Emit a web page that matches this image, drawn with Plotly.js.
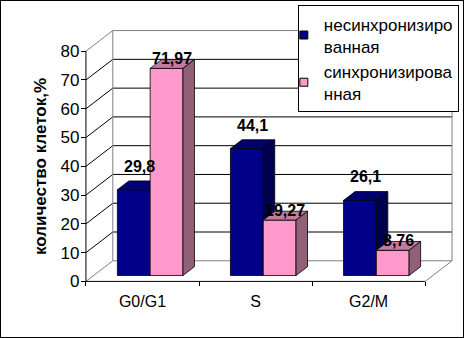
<!DOCTYPE html>
<html><head><meta charset="utf-8">
<script src="https://cdn.plot.ly/plotly-3.0.1.min.js"></script>
<style>
html,body{margin:0;padding:0;background:#fff}
#wrap{position:relative;width:464px;height:338px}
#chart{width:464px;height:338px}
#frame{position:absolute;left:0;top:0;width:464px;height:338px;box-sizing:border-box;border:1px solid #000;pointer-events:none;z-index:10}
</style>
</head><body><div id="wrap"><div id="chart"></div><div id="frame"></div></div>
<script>
// ---- data ----
const categories = ["G0/G1", "S", "G2/M"];
const seriesNames = ["несинхронизиро<br>ванная", "синхронизирова<br>нная"];
const unsync = [29.8, 44.1, 26.1];
const sync = [71.97, 19.27, 8.76];
const yTicks = [0, 10, 20, 30, 40, 50, 60, 70, 80];
const yTitle = "количество клеток,%";

// ---- geometry (pixels -> data units) ----
const W = 464, H = 338, M = {l: 75, r: 5, t: 24, b: 34};
const KX = 113.67, KY = 2.93;
const frontX0px = 86, frontY0px = 281;
const plotW = W - M.l - M.r, plotH = H - M.t - M.b;
const xmin = -0.5 - (frontX0px - M.l) / KX, xmax = xmin + plotW / KX;
const ymin = -(M.t + plotH - frontY0px) / KY, ymax = ymin + plotH / KY;
const DX = 27 / KX, DY = 21 / KY;
const BF = 0.286, BB = 0.714, BW = 0.29;
const FONT = "Liberation Sans, Arial, sans-serif";

const series = [
  {name: seriesNames[0], vals: unsync, xoff: -BW, front: "#000088", top: "#000070", side: "#00004e", legend: "#000080", lshift: 19},
  {name: seriesNames[1], vals: sync, xoff: 0, front: "#ff99cc", top: "#c27a9f", side: "#93607a", legend: "#ff99cc", lshift: 5}
];

const traces = [];
const annotations = [];
const fx = BF * DX, fy = BF * DY, bdx = (BB - BF) * DX, bdy = (BB - BF) * DY;
series.forEach(s => {
  const F = {x: [], y: []}, T = {x: [], y: []}, S = {x: [], y: []};
  s.vals.forEach((v, i) => {
    const x0 = i + s.xoff + fx, x1 = x0 + BW, y0 = fy, y1 = fy + v;
    F.x.push(x0, x1, x1, x0, x0, null); F.y.push(y0, y0, y1, y1, y0, null);
    T.x.push(x0, x1, x1 + bdx, x0 + bdx, x0, null); T.y.push(y1, y1, y1 + bdy, y1 + bdy, y1, null);
    S.x.push(x1, x1 + bdx, x1 + bdx, x1, x1, null); S.y.push(y0, y0 + bdy, y1 + bdy, y1, y0, null);
    annotations.push({
      x: x0 + BW / 2 + bdx / 2, y: y1 + bdy / 2, xref: "x", yref: "y",
      text: String(v).replace(".", ","), showarrow: false, yshift: s.lshift,
      font: {family: FONT, size: 16, color: "#000", weight: "bold"}
    });
  });
  [[F, s.front], [T, s.top], [S, s.side]].forEach(([p, c]) => {
    traces.push({type: "scatter", mode: "lines", x: p.x, y: p.y, fill: "toself", fillcolor: c,
      line: {color: "#000", width: 0.8}, showlegend: false, hoverinfo: "skip"});
  });
});
series.forEach(s => {
  traces.push({type: "scatter", mode: "markers", x: [null], y: [null], name: s.name, showlegend: true,
    marker: {symbol: "square", size: 8, color: s.legend, line: {color: "#000", width: 1}}});
});

// ---- walls / grid ----
const shapes = [];
const gray = "#808080";
function seg(x0, y0, x1, y1, color) {
  shapes.push({type: "line", xref: "x", yref: "y", x0, y0, x1, y1, layer: "below", line: {color, width: 1}});
}
const yTop = yTicks[yTicks.length - 1];
yTicks.forEach(v => {
  const c = (v === 0 || v === yTop) ? gray : "#000";
  seg(-0.5, v, -0.5 + DX, v + DY, c);
  seg(-0.5 + DX, v + DY, 2.5 + DX, v + DY, c);
});
seg(-0.5 + DX, DY, -0.5 + DX, yTop + DY, gray);
seg(2.5 + DX, DY, 2.5 + DX, yTop + DY, gray);
seg(2.5, 0, 2.5 + DX, DY, gray);
seg(-0.5, 0, 2.5, 0, "#000");
seg(-0.5, 0, -0.5, yTop, "#000");

const layout = {
  width: W, height: H, margin: M, paper_bgcolor: "#fff", plot_bgcolor: "#fff",
  font: {family: FONT, size: 16, color: "#000"},
  showlegend: true,
  xaxis: {range: [xmin, xmax], anchor: "free", position: (0 - ymin) / (ymax - ymin),
    tickmode: "array", tickvals: [0, 1, 2], ticktext: categories, ticks: "", ticklabelstandoff: 9,
    minor: {tickmode: "array", tickvals: [-0.5, 0.5, 1.5, 2.5], ticks: "outside", ticklen: 4, tickcolor: "#000", showgrid: false},
    showgrid: false, zeroline: false, showline: false, fixedrange: true,
    tickfont: {family: FONT, size: 16, color: "#000"}},
  yaxis: {range: [ymin, ymax], anchor: "free", position: (-0.5 - xmin) / (xmax - xmin),
    tickmode: "array", tickvals: yTicks, ticks: "outside", ticklen: 5, tickcolor: "#000", ticklabelstandoff: -2,
    showgrid: false, zeroline: false, showline: false, fixedrange: true,
    tickfont: {family: FONT, size: 17, color: "#000"},
    title: {text: yTitle, standoff: 8, font: {family: FONT, size: 17, color: "#000", weight: "bold"}}},
  legend: {x: (299 - M.l) / plotW, y: 1 + M.t / plotH, xanchor: "left", yanchor: "top",
    bgcolor: "#fff", bordercolor: "#000", borderwidth: 1, indentation: -15,
    font: {family: FONT, size: 17, color: "#000"}},
  shapes, annotations
};
Plotly.newPlot("chart", traces, layout, {staticPlot: true, displayModeBar: false});
</script>
</body></html>
